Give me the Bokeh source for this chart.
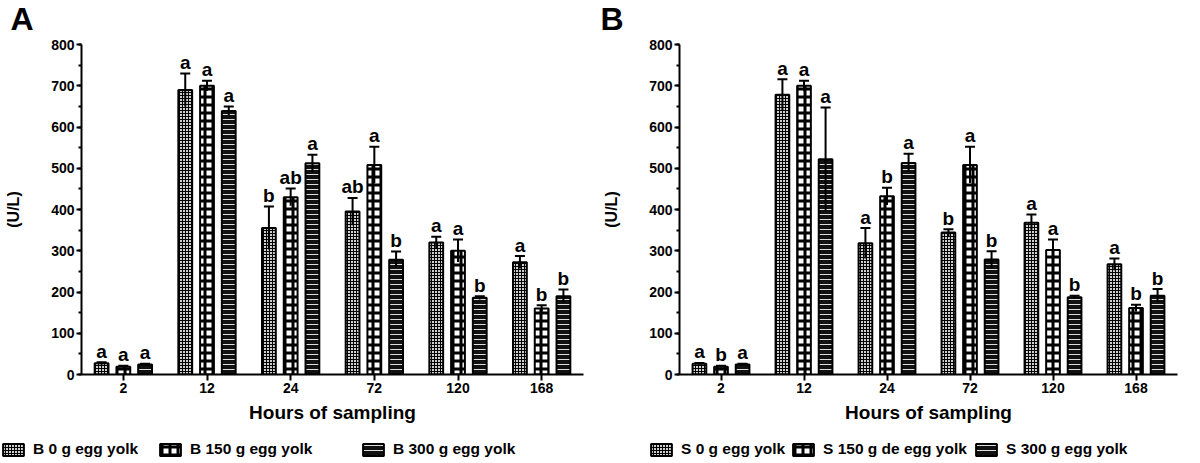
from bokeh.plotting import figure
from bokeh.models import (ColumnDataSource, FactorRange, Range1d, Whisker, Legend,
                          LegendItem, TeeHead, SingleIntervalTicker, Label)
from bokeh.transform import dodge
from bokeh.layouts import row, column
from bokeh.core.properties import value
from bokeh.embed import file_html
from bokeh.resources import INLINE

FONT = "Liberation Sans"

hours = ["2", "12", "24", "72", "120", "168"]

# Panel A
a_b0 = [27, 690, 355, 395, 320, 272]
a_b0_err = [3, 40, 52, 33, 14, 15]
a_b0_sig = ["a", "a", "b", "ab", "a", "a"]
a_b150 = [19, 700, 430, 508, 300, 160]
a_b150_err = [2, 12, 21, 44, 27, 8]
a_b150_sig = ["a", "a", "ab", "a", "a", "b"]
a_b300 = [24, 639, 512, 278, 186, 190]
a_b300_err = [2, 11, 21, 20, 4, 16]
a_b300_sig = ["a", "a", "a", "b", "b", "b"]

# Panel B
b_s0 = [26, 678, 318, 344, 368, 267]
b_s0_err = [2, 38, 37, 8, 20, 14]
b_s0_sig = ["a", "a", "a", "b", "a", "a"]
b_s150 = [19, 700, 432, 508, 302, 161]
b_s150_err = [2, 12, 21, 44, 25, 8]
b_s150_sig = ["b", "a", "b", "a", "a", "b"]
b_s300 = [24, 522, 513, 279, 187, 191]
b_s300_err = [2, 125, 22, 20, 4, 16]
b_s300_sig = ["a", "a", "a", "b", "b", "b"]

labels_a = ["B 0 g egg yolk", "B 150 g egg yolk", "B 300 g egg yolk"]
labels_b = ["S 0 g egg yolk", "S 150 g de egg yolk", "S 300 g egg yolk"]

# bar styles: fine mesh, coarse mesh, dark with light horizontal lines
STYLES = [
    dict(fill_color="#d0d0d0", hatch_pattern="cross", hatch_scale=3, hatch_weight=1,
         hatch_color="black"),
    dict(fill_color="white", hatch_pattern="cross", hatch_scale=8, hatch_weight=3,
         hatch_color="black"),
    dict(fill_color="#111111", hatch_pattern="horizontal_line", hatch_scale=5,
         hatch_weight=1, hatch_color="#dddddd"),
]
offsets = [-0.26, 0.0, 0.26]
BAR_W = 0.165

TOP_H = 36
LEG_H = 30
MAIN_H = 463 - TOP_H - LEG_H


def bare_figure(height):
    f = figure(width=600, height=height, x_range=Range1d(0, 1), y_range=Range1d(0, 1),
               output_backend="svg", toolbar_location=None,
               x_axis_type=None, y_axis_type=None,
               min_border_left=0, min_border_right=0, min_border_top=0,
               min_border_bottom=0)
    f.outline_line_color = None
    f.xgrid.grid_line_color = None
    f.ygrid.grid_line_color = None
    return f


def make_letter(letter, x):
    f = bare_figure(TOP_H)
    f.add_layout(Label(x=x, y=TOP_H, x_units="screen", y_units="screen", text=letter,
                       anchor="top_left", text_font=FONT, text_font_style="bold",
                       text_font_size="32px", text_color="black"))
    return f


def make_panel(series, border_left, border_right):
    p = figure(width=600, height=MAIN_H, x_range=FactorRange(factors=hours),
               y_range=Range1d(0, 800), output_backend="svg", toolbar_location=None,
               min_border_left=border_left, min_border_right=border_right,
               min_border_top=8, min_border_bottom=59)
    p.outline_line_color = None
    p.xgrid.grid_line_color = None
    p.ygrid.grid_line_color = None

    for i, (mean, err, sig) in enumerate(series):
        src = ColumnDataSource(dict(
            hours=hours, mean=mean, err=err, sig=sig,
            lower=[m - e for m, e in zip(mean, err)],
            upper=[m + e for m, e in zip(mean, err)]))
        xx = dodge("hours", offsets[i], range=p.x_range)
        p.vbar(x=xx, top="mean", width=BAR_W, source=src,
               line_color="black", line_width=2, **STYLES[i])
        w = Whisker(base=xx, lower="lower", upper="upper", source=src,
                    line_color="black", line_width=2, level="annotation",
                    upper_head=TeeHead(size=10, line_width=2, line_color="black"),
                    lower_head=None)
        p.add_layout(w)
        p.text(x=xx, y="upper", text="sig", source=src, text_align="center",
               text_baseline="alphabetic", y_offset=-11, text_font=value(FONT),
               text_font_style="bold", text_font_size="19px", text_color="black")

    for ax in (p.xaxis[0], p.yaxis[0]):
        ax.axis_line_width = 2
        ax.axis_line_color = "black"
        ax.major_tick_line_width = 2
        ax.major_tick_line_color = "black"
        ax.minor_tick_line_width = 2
        ax.minor_tick_line_color = "black"
        ax.major_tick_in = 0
        ax.minor_tick_in = 0
        ax.major_label_text_font = FONT
        ax.major_label_text_font_style = "bold"
        ax.major_label_text_font_size = "14px"
        ax.major_label_text_color = "black"
        ax.axis_label_text_font = FONT
        ax.axis_label_text_font_style = "bold"
        ax.axis_label_text_color = "black"

    p.yaxis.ticker = SingleIntervalTicker(interval=100, num_minor_ticks=2)
    p.yaxis.major_tick_out = 5
    p.yaxis.minor_tick_out = 3
    p.yaxis.major_label_standoff = 2
    p.yaxis.axis_label = "(U/L)"
    p.yaxis.axis_label_text_font_size = "16px"
    p.yaxis.axis_label_standoff = 26

    p.xaxis.major_tick_out = 6
    p.xaxis.major_label_standoff = 2
    p.xaxis.axis_label = "Hours of sampling"
    p.xaxis.axis_label_text_font_size = "19px"
    p.xaxis.axis_label_standoff = 6
    return p


def make_legend(labels, xs):
    lf = bare_figure(LEG_H)
    # key-only source: a zero-size bar, used only to style the legend swatches
    key_src = ColumnDataSource(dict(x=[0.99], bottom=[0.5], top=[0.5]))
    for i, lab in enumerate(labels):
        r = lf.vbar(x="x", bottom="bottom", top="top", width=0, source=key_src,
                    line_color="black", line_width=2, **STYLES[i])
        leg = Legend(items=[LegendItem(label=lab, renderers=[r])],
                     location=(xs[i], 5), orientation="horizontal",
                     padding=0, margin=0, spacing=0, border_line_alpha=0,
                     background_fill_alpha=0, glyph_width=26, glyph_height=15,
                     label_standoff=7, label_height=15,
                     label_text_font=FONT, label_text_font_style="bold",
                     label_text_font_size="15.5px", label_text_color="black")
        lf.add_layout(leg)
    return lf


tA = make_letter("A", 10)
tB = make_letter("B", 0)
pA = make_panel([(a_b0, a_b0_err, a_b0_sig), (a_b150, a_b150_err, a_b150_sig),
                 (a_b300, a_b300_err, a_b300_sig)], 81, 17)
pB = make_panel([(b_s0, b_s0_err, b_s0_sig), (b_s150, b_s150_err, b_s150_sig),
                 (b_s300, b_s300_err, b_s300_sig)], 77, 23)
lA = make_legend(labels_a, [0, 157, 360])
lB = make_legend(labels_b, [48, 190, 373])

layout = column(row(tA, tB), row(pA, pB), row(lA, lB))
open("out.html", "w").write(file_html(layout, INLINE))
